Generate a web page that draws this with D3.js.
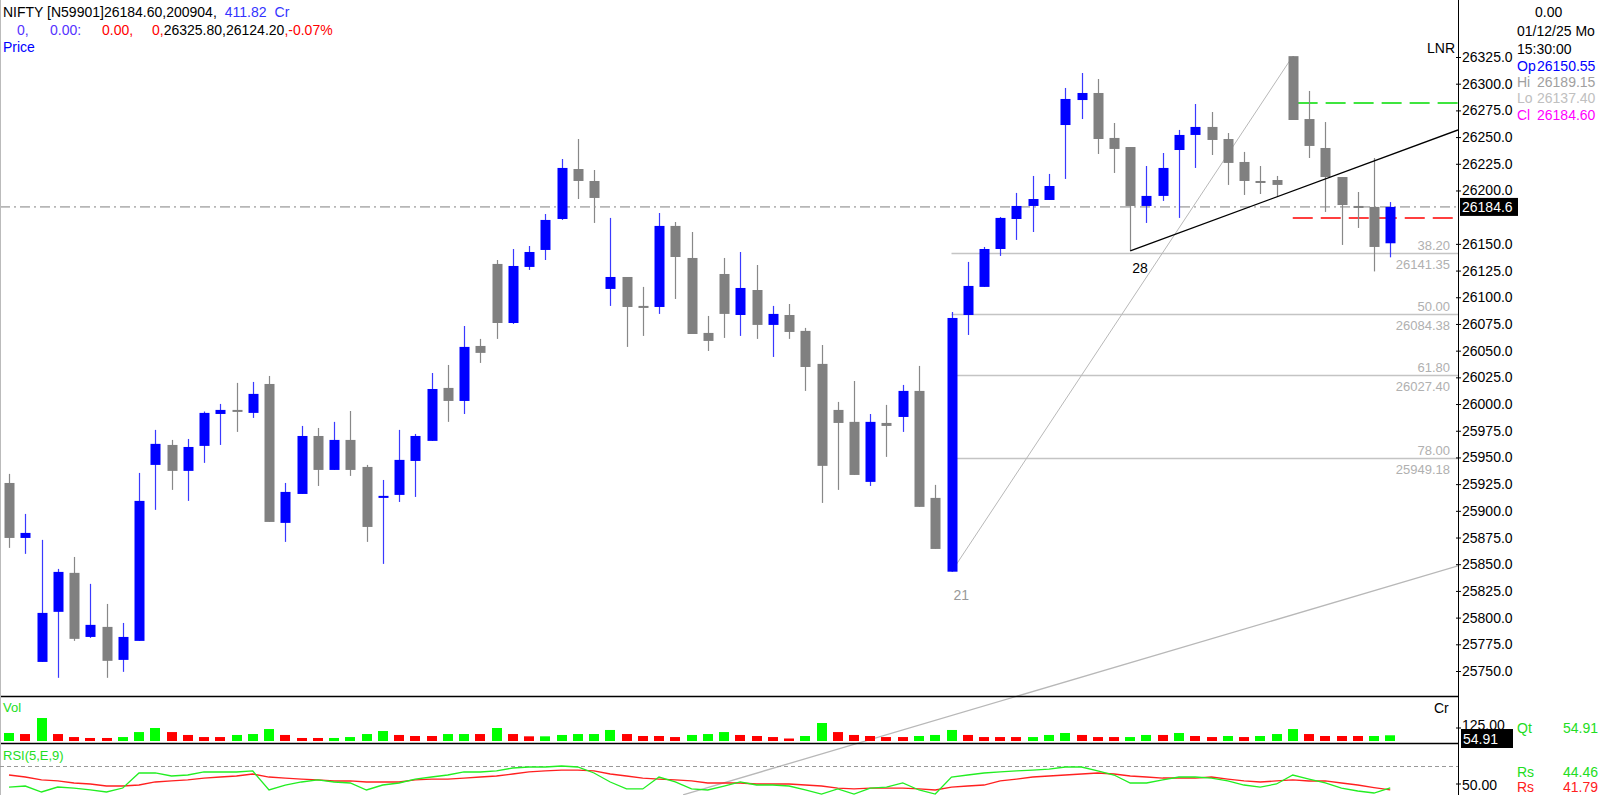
<!DOCTYPE html>
<html><head><meta charset="utf-8">
<script src="https://cdn.jsdelivr.net/npm/d3@7/dist/d3.min.js"></script>
<style>html,body{margin:0;padding:0;background:#fff;overflow:hidden}svg{display:block;font-family:"Liberation Sans",Arial,sans-serif}</style>
</head><body><svg id="c" width="1600" height="795"></svg>
<script>
const opens=[25926.1,25874.6,25758.5,25805.4,25841.9,25781.9,25791.3,25760.4,25778.2,25943,25961.7,25937.4,25960.8,25990.7,25994.5,25991.7,26018.8,25888.7,25915.8,25970.1,25938.3,25966.4,25941.1,25912.1,25914.9,25946.7,25965.5,26015.1,26002.9,26054.4,26131.2,26075.9,26128.4,26144.3,26173.3,26220.1,26208.9,26107.8,26119,26091.9,26090.9,26166.8,26136.8,26066.6,26121.8,26083.4,26106.8,26074.1,26083.4,26068.5,26037.6,25994.5,25983.3,25927.1,25982.3,25987.9,26012.3,25912.1,25843,26083.4,26109.7,26145.2,26173.3,26185.5,26191.1,26261.3,26284.7,26291.3,26249.2,26240.7,26185.5,26194.9,26237.9,26252,26259.5,26248.2,26226.7,26208.9,26209.8,26325.8,26266.9,26239.8,26212.6,26185.5,26184.6,26150.55];
const highs=[25934.6,25897.1,25872.8,25845.6,25856.8,25831.6,25812.8,25795,25935.5,25975.8,25966.4,25967.3,25993,26000.1,26019.8,26020.7,26026.3,25926.1,25979.5,25977.6,25983.3,25993.5,25943,25928.9,25975.8,25972,26029.1,26036.6,26073.1,26061,26134.9,26145.2,26148,26178,26229.5,26248.2,26219.2,26174.3,26119,26109.7,26178.9,26170.5,26161.1,26082.5,26136.8,26142.4,26130.2,26091.9,26093.7,26071.3,26055.3,26002,26021.6,25990.7,25999.2,26017.9,26035.7,25924.3,26086.2,26133.1,26147.1,26175.2,26197.7,26213.6,26215.5,26296,26310,26304.4,26263.2,26240.7,26222.9,26235.1,26256.7,26281,26273.5,26253.8,26236.1,26222.9,26213.6,26325.8,26293.2,26264.1,26212.6,26198.6,26230.4,26189.15];
const lows=[25865.3,25859.7,25758.5,25743.6,25778.2,25781,25743.6,25749.2,25778.2,25900.9,25919.6,25909.3,25944.9,25961.7,25973.9,25987,25889.6,25870.9,25915.8,25923.3,25938.3,25932.7,25870.9,25850.3,25908.3,25913,25965.5,25983.3,25990.7,26038.5,26061,26075,26125.6,26134.9,26172.4,26192,26169.6,26091.9,26053.5,26063.8,26084.4,26098.4,26065.6,26049.7,26061.9,26063.8,26061,26044.1,26061,26012.3,25907.4,25919.6,25933.6,25923.3,25950.5,25973.9,25903.7,25864.3,25842.95,26064.7,26109.7,26138.7,26153.7,26161.1,26191.1,26210.8,26266.9,26234.2,26216.4,26143.4,26169.6,26190.2,26174.3,26221.1,26233.2,26205.2,26195.8,26196.7,26193.9,26266,26230.4,26179.9,26149,26164.9,26124.2,26137.4];
const closes=[25874.6,25879.3,25804.4,25842.8,25780.1,25793.2,25759.5,25781.9,25909.3,25962.7,25937.4,25959.8,25991.7,25994.5,25993.5,26009.5,25889.6,25917.7,25970.1,25938.3,25966.4,25938.3,25884.9,25914,25947.7,25970.1,26014.1,26002.9,26053.5,26047.9,26075.9,26129.3,26142.4,26172.4,26221.1,26208.9,26193,26119,26090.9,26090,26166.8,26137.7,26065.6,26059.1,26084.4,26108.7,26074.1,26084.4,26067.5,26034.7,25942.1,25982.3,25933.6,25983.3,25979.5,26012.3,25903.7,25864.3,26080.6,26110.6,26145.2,26174.3,26185.5,26192,26204.2,26285.7,26291.3,26248.2,26238.9,26185.5,26194.9,26221.1,26252,26259.5,26247.3,26225.8,26208.9,26208,26205.2,26266,26241.7,26212.6,26186.4,26184.6,26147.1,26184.6];
const volume=[77,67,221,67,38,29,29,38,86,125,86,58,38,38,58,67,115,58,29,29,29,38,67,96,58,48,48,67,67,67,125,67,45,45,58,67,67,106,67,48,48,38,58,67,86,58,48,38,24,48,173,86,58,48,38,38,48,58,106,58,38,38,38,38,58,77,58,38,38,38,58,58,77,48,38,48,38,48,67,115,67,48,48,48,48,54.91];
const volUp="grgrrrrgggrrrrgggrrrggggrrrggrgrrgggggrrrrgggrrrrggrrrrrgggrrrrgggrrrggrgrrgrgggrrrrgg";
const rsi=[45.8,47.2,38.9,45.8,44.4,41.7,38.9,44.4,65.3,65.3,61.1,62.5,66.7,66.7,66.7,68.1,41.7,48.6,52.8,55.6,52.8,51.4,41.7,48.6,51.4,56.9,59.7,62.5,66.7,66.7,68.1,72.2,73.6,73.6,75,73.6,65.3,52.8,43.1,43.1,59.7,52.8,43.1,41.7,47.2,52.8,48.6,48.6,47.2,41.7,36.1,43.1,36.1,44.4,45.8,51.4,41.7,36.1,59.7,62.5,65.3,66.7,68.1,69.4,70.8,73.6,73.6,68.1,62.5,51.4,51.4,55.6,59.7,59.7,58.3,54.2,48.6,45.8,50,62.5,56.9,51.4,44.4,40.3,37.5,44.46];
const rsiSig=[62.5,59.7,55.6,54.2,51.4,50,47.2,47.2,48.6,52.8,54.2,55.6,58.3,59.7,61.1,63.9,59.7,58.3,56.9,55.6,54.2,54.2,52.8,52.8,52.8,55.6,56.9,56.9,58.3,59.7,61.1,63.9,66.7,68.1,69.4,69.4,68.1,63.9,61.1,58.3,56.9,55.6,54.2,51.4,51.4,51.4,50,50,50,48.6,47.2,44.4,43.1,44.4,44.4,44.4,43.1,41.7,45.8,47.2,48.6,54.2,56.9,59.7,61.1,62.5,63.9,65.3,63.9,61.1,59.7,58.3,58.3,58.3,59.7,56.9,54.2,52.8,54.2,55.6,54.2,54.2,51.4,48.6,45,41.79];
const priceTicks=d3.range(25750,26326,25).filter(v=>v!==26175);
const fibLevels=[38.2,50,61.8,78];
const swingLow={i:58,p:25842.95}, swingHigh={i:79,p:26325.8};
const blackTrend=[{i:69,p:26143.4},{i:89.17,p:26256.7}];
const greyTrend=[{i:41.48,p:25634},{i:89.17,p:25848.4}];
const greenLevel={i:79.3,p:26281.9}, redLevel={i:79,p:26174.3};
const lastPrice=26184.6;

const svg=d3.select("#c");
const AX=1458;
const x=d3.scaleLinear().domain([0,85]).range([9,9+85*16.25]);
const y=d3.scaleLinear().domain([25750,26325]).range([671,57]);
const yv=d3.scaleLinear().domain([0,125]).range([741,728]);
const yr=d3.scaleLinear().domain([50,75]).range([784,766]);
svg.append("defs").append("clipPath").attr("id","pc").append("rect").attr("x",0).attr("y",0).attr("width",AX).attr("height",795);
const BLUE="#0000ff",GRAY="#808080";

svg.append("line").attr("x1",0).attr("x2",AX).attr("y1",y(lastPrice)).attr("y2",y(lastPrice)).attr("stroke","#808080").attr("stroke-dasharray","10,4,2,4");
const range=swingHigh.p-swingLow.p;
fibLevels.forEach(l=>{const p=swingHigh.p-range*l/100;const yy=Math.round(y(p))+0.5;
 svg.append("line").attr("x1",x(swingLow.i)).attr("x2",AX).attr("y1",yy).attr("y2",yy).attr("stroke","#c4c4c4").attr("stroke-width",1.3);
 svg.append("text").attr("x",1450).attr("y",yy-4).attr("text-anchor","end").attr("font-size",13).attr("fill","#b0b0b0").text(l.toFixed(2));
 svg.append("text").attr("x",1450).attr("y",yy+15).attr("text-anchor","end").attr("font-size",13).attr("fill","#b0b0b0").text(p.toFixed(2));
});
svg.append("line").attr("x1",x(swingLow.i)).attr("y1",y(swingLow.p)).attr("x2",x(swingHigh.i)).attr("y2",y(swingHigh.p)).attr("stroke","#b8b8b8");
svg.append("line").attr("x1",x(greenLevel.i)).attr("x2",AX).attr("y1",y(greenLevel.p)).attr("y2",y(greenLevel.p)).attr("stroke","#00dd00").attr("stroke-width",1.5).attr("stroke-dasharray","20,8");
svg.append("line").attr("x1",x(redLevel.i)).attr("x2",AX).attr("y1",y(redLevel.p)).attr("y2",y(redLevel.p)).attr("stroke","#ff0000").attr("stroke-width",1.5).attr("stroke-dasharray","20,8");

const idx=d3.range(opens.length);
const cg=svg.append("g");
idx.forEach(i=>{const up=closes[i]>opens[i];const col=up?BLUE:GRAY;const cx=Math.round(x(i))+0.5;
 cg.append("line").attr("x1",cx).attr("x2",cx).attr("y1",y(highs[i])).attr("y2",y(lows[i])).attr("stroke",up?"#3a3aff":"#888").attr("stroke-width",1.2);
 const t=y(Math.max(opens[i],closes[i])),b=y(Math.min(opens[i],closes[i]));
 cg.append("rect").attr("x",cx-5).attr("width",10).attr("y",t).attr("height",Math.max(2,b-t)).attr("fill",col);
});
const lg=svg.append("g").attr("clip-path","url(#pc)");
lg.append("line").attr("x1",x(blackTrend[0].i)).attr("y1",y(blackTrend[0].p)).attr("x2",x(blackTrend[1].i)).attr("y2",y(blackTrend[1].p)).attr("stroke","#000").attr("stroke-width",1.3);
lg.append("line").attr("x1",x(greyTrend[0].i)).attr("y1",y(greyTrend[0].p)).attr("x2",x(greyTrend[1].i)).attr("y2",y(greyTrend[1].p)).attr("stroke","#b8b8b8").attr("stroke-width",1.3);
svg.append("text").attr("x",x(swingLow.i)+2).attr("y",y(swingLow.p)+28).attr("font-size",14).attr("fill","#999").text("21");
svg.append("text").attr("x",x(blackTrend[0].i)+2).attr("y",y(blackTrend[0].p)+22).attr("font-size",14).attr("fill","#000").text("28");

[696,743].forEach(v=>svg.append("line").attr("x1",0).attr("x2",AX).attr("y1",v+0.5).attr("y2",v+0.5).attr("stroke","#000").attr("stroke-width",1.5));
svg.append("line").attr("x1",0.5).attr("x2",0.5).attr("y1",0).attr("y2",795).attr("stroke","#bbb");
svg.append("line").attr("x1",AX+0.5).attr("x2",AX+0.5).attr("y1",0).attr("y2",795).attr("stroke","#000");

idx.forEach(i=>{svg.append("rect").attr("x",Math.round(x(i))-5).attr("width",10).attr("y",yv(volume[i])).attr("height",yv(0)-yv(volume[i])).attr("fill",volUp[i]==="g"?"#00ff00":"#ff0000");});
svg.append("line").attr("x1",0).attr("x2",AX).attr("y1",yr(75)+0.5).attr("y2",yr(75)+0.5).attr("stroke","#999").attr("stroke-dasharray","4,3");
const rl=d3.line().x((d,i)=>x(i)).y(d=>yr(d));
svg.append("path").attr("d",rl(rsiSig)).attr("fill","none").attr("stroke","#ff2020").attr("stroke-width",1.3);
svg.append("path").attr("d",rl(rsi)).attr("fill","none").attr("stroke","#22ee22").attr("stroke-width",1.3);

const ax=svg.append("g").attr("transform",`translate(${AX},0)`);
ax.call(d3.axisRight(y).tickValues(priceTicks).tickSize(3).tickFormat(d=>d.toFixed(1)));
ax.select(".domain").remove();
ax.selectAll(".tick line").attr("x1",-2).attr("x2",3).attr("stroke","#000");
ax.selectAll(".tick text").attr("x",4).attr("font-size",14).attr("font-family","Liberation Sans, Arial").attr("fill","#000");
svg.append("rect").attr("x",AX+2).attr("y",y(lastPrice)-9).attr("width",58).attr("height",18).attr("fill","#000");
svg.append("text").attr("x",AX+4).attr("y",y(lastPrice)+5).attr("font-size",14).attr("fill","#fff").text(lastPrice.toFixed(1));
svg.append("text").attr("x",1455).attr("y",53).attr("text-anchor","end").attr("font-size",14).text("LNR");
svg.append("line").attr("x1",AX-2).attr("x2",AX+3).attr("y1",yv(125)).attr("y2",yv(125)).attr("stroke","#000");
svg.append("text").attr("x",AX+4).attr("y",yv(125)+2).attr("font-size",14).text("125.00");
svg.append("rect").attr("x",1461).attr("y",729).attr("width",52).attr("height",19).attr("fill","#000");
svg.append("text").attr("x",1463).attr("y",744).attr("font-size",14).attr("fill","#fff").text(volume[volume.length-1].toFixed(2));
svg.append("line").attr("x1",AX-2).attr("x2",AX+3).attr("y1",yr(50)).attr("y2",yr(50)).attr("stroke","#000");
svg.append("text").attr("x",AX+4).attr("y",yr(50)+6).attr("font-size",14).text("50.00");

const G="#22dd22";
svg.append("text").attr("x",3).attr("y",712).attr("font-size",13).attr("fill",G).text("Vol");
svg.append("text").attr("x",1434).attr("y",713).attr("font-size",14).text("Cr");
svg.append("text").attr("x",3).attr("y",760).attr("font-size",13).attr("fill",G).text("RSI(5,E,9)");
const info=(t,yy,c,anchor,xx)=>svg.append("text").attr("x",xx).attr("y",yy).attr("font-size",14).attr("fill",c).attr("text-anchor",anchor||"start").text(t);
info("Qt",733,G,"start",1517);info(volume[volume.length-1].toFixed(2),733,G,"end",1598);
info("Rs",777,G,"start",1517);info(rsi[rsi.length-1].toFixed(2),777,G,"end",1598);
info("Rs",792,"#ff2020","start",1517);info(rsiSig[rsiSig.length-1].toFixed(2),792,"#ff2020","end",1598);
info("0.00",17,"#000","start",1535);
info("01/12/25 Mo",36,"#000","start",1517);
info("15:30:00",54,"#000","start",1517);
info("Op",71,BLUE,"start",1517);info(opens[85].toFixed(2),71,BLUE,"start",1537);
info("Hi",87,"#a0a0a0","start",1517);info(highs[85].toFixed(2),87,"#a0a0a0","start",1537);
info("Lo",103,"#c0c0c0","start",1517);info(lows[85].toFixed(2),103,"#c0c0c0","start",1537);
info("Cl",120,"#ff00ff","start",1517);info(closes[85].toFixed(2),120,"#ff00ff","start",1537);
const h1=svg.append("text").attr("x",3).attr("y",17).attr("font-size",14);
h1.append("tspan").attr("fill","#000").text("NIFTY [N59901]26184.60,200904,");
h1.append("tspan").attr("fill","#3333ff").attr("dx",8).text("411.82");
h1.append("tspan").attr("fill","#3333ff").attr("dx",8).text("Cr");
const h2=svg.append("text").attr("x",17).attr("y",35).attr("font-size",14);
h2.append("tspan").attr("fill","#5533ff").text("0,");
h2.append("tspan").attr("fill","#5533ff").attr("x",50).text("0.00:");
h2.append("tspan").attr("fill","#ff0000").attr("x",102).text("0.00,");
h2.append("tspan").attr("fill","#ff0000").attr("x",152).text("0,");
h2.append("tspan").attr("fill","#000").text("26325.80,26124.20");
h2.append("tspan").attr("fill","#ff0000").text(",-0.07%");
svg.append("text").attr("x",3).attr("y",52).attr("font-size",14).attr("fill","#0000ff").text("Price");
</script></body></html>
